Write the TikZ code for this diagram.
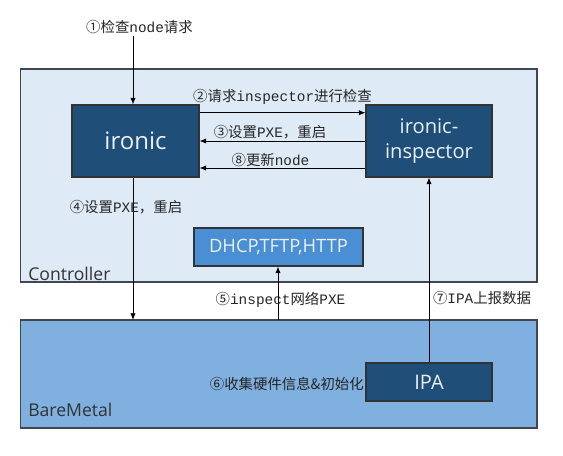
\documentclass[tikz,border=0pt]{standalone}
\usepackage{fontspec}
\setmainfont{Noto Sans CJK SC}
\newfontfamily\cjk{Noto Sans CJK SC}
\newfontfamily\boxf{Open Sans}
\newfontfamily\monof{Liberation Mono}
\usetikzlibrary{arrows.meta}
\definecolor{ctrlfill}{HTML}{DEEAF6}
\definecolor{bmfill}{HTML}{7FB0DF}
\definecolor{darkbox}{HTML}{1F4E79}
\definecolor{midbox}{HTML}{4A8FD4}
\definecolor{edgegray}{HTML}{3F4750}
\definecolor{boxtext}{HTML}{EAF0F6}
\newcommand{\mn}[1]{{\monof\fontsize{10.8pt}{12pt}\selectfont #1}}
\tikzset{
  region/.style={draw=edgegray, line width=0.9pt},
  darkrect/.style={draw=black!80, line width=0.8pt, fill=darkbox, text=boxtext,
     align=center, inner sep=0pt},
  midrect/.style={draw=black!80, line width=0.8pt, fill=midbox, text=boxtext,
     font=\boxf\fontsize{13.8pt}{15pt}\selectfont, inner sep=0pt},
  lbl/.style={font=\cjk\fontsize{10.8pt}{12pt}\selectfont, inner sep=0pt, text=black!85},
  regionlbl/.style={font=\boxf\fontsize{13.2pt}{15pt}\selectfont, text=black!80, inner sep=0pt, anchor=base west},
  conn/.style={draw=black, line width=0.6pt, -{Latex[length=5pt,width=4pt]}}
}
\begin{document}
\begin{tikzpicture}[x=0.75pt,y=-0.75pt]
\path[use as bounding box, fill=white] (0,0) rectangle (563,456);
% regions
\path[region, fill=ctrlfill] (20.5,69) rectangle (537,282);
\path[region, fill=bmfill] (20.5,320) rectangle (537,428);
\node[regionlbl] (ctrllbl) at (28,280) {Controller};
\node[regionlbl] (bmlbl) at (28,416) {BareMetal};
% boxes
\node[darkrect, font=\boxf\fontsize{18pt}{20pt}\selectfont, minimum width=127*0.75pt, minimum height=72*0.75pt] (ironic) at (135.5,141) {ironic};
\node[darkrect, font=\boxf\fontsize{15.1pt}{19pt}\selectfont, minimum width=126*0.75pt, minimum height=72*0.75pt] (insp) at (429,141) {ironic-\\inspector};
\node[midrect, minimum width=169*0.75pt, minimum height=38*0.75pt] (dhcp) at (278.5,247) {DHCP,TFTP,HTTP};
\node[darkrect, font=\boxf\fontsize{15pt}{17pt}\selectfont, minimum width=126*0.75pt, minimum height=38*0.75pt] (ipa) at (429,382) {IPA};
% free ends
\coordinate (start) at (133,36);
\coordinate (bm4) at (133,320);
\coordinate (bm5) at (278,320);
% connectors
\draw[conn] (start) -- (start |- ironic.north);
\draw[conn] (ironic.east |- 0,112.7) -- (insp.west |- 0,112.7);
\draw[conn] (insp.west |- 0,141) -- (ironic.east |- 0,141);
\draw[conn] (insp.west |- 0,168) -- (ironic.east |- 0,168);
\draw[conn] (bm4 |- ironic.south) -- (bm4);
\draw[conn] (bm5) -- (bm5 |- dhcp.south);
\draw[conn] (ipa.north) -- (insp.south);
% labels
\node[lbl] (l1) at (139.5,27) {①检查\mn{node}请求};
\node[lbl] (l2) at (282.5,97) {②请求\mn{inspector}进行检查};
\node[lbl] (l3) at (270,132) {③设置\mn{PXE}，重启};
\node[lbl] (l8) at (270.5,160) {⑧更新\mn{node}};
\node[lbl] (l4) at (126,207) {④设置\mn{PXE}，重启};
\node[lbl] (l5) at (280.5,300) {⑤\mn{inspect}网络\mn{PXE}};
\node[lbl] (l7) at (482,298) {⑦\mn{IPA}上报数据};
\node[lbl, anchor=east] (l6) at (364,384) {⑥收集硬件信息\&初始化};
\end{tikzpicture}
\end{document}
